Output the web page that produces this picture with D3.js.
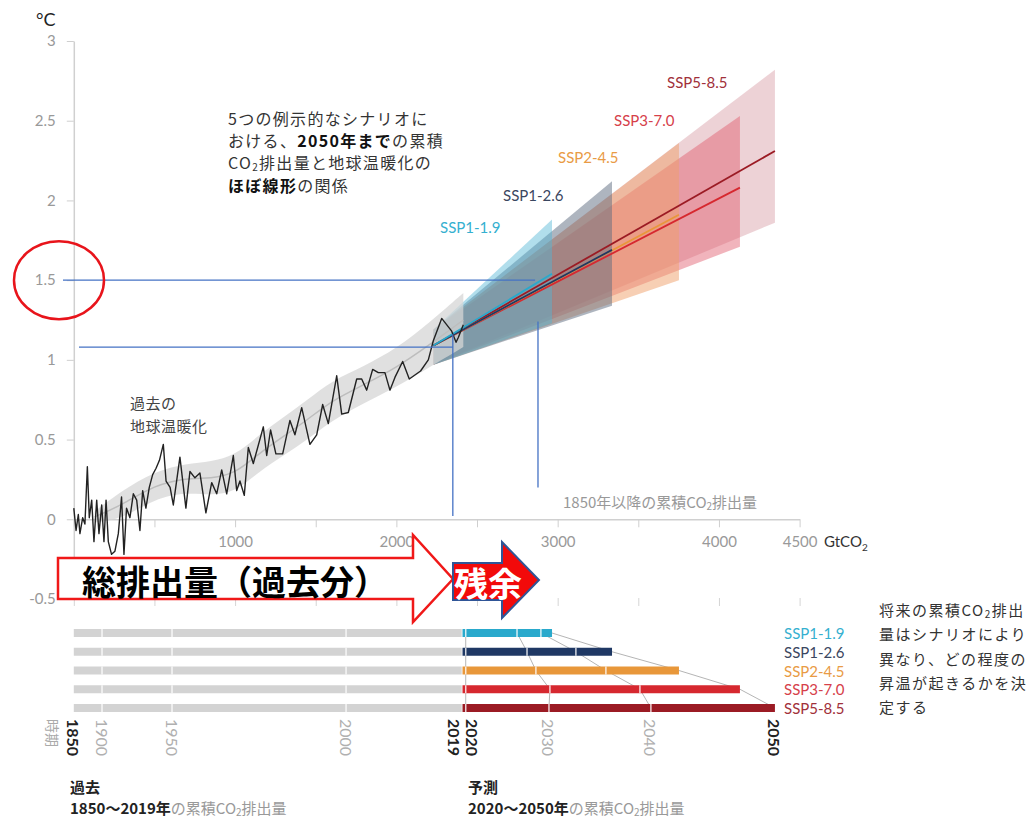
<!DOCTYPE html>
<html>
<head>
<meta charset="utf-8">
<script src="https://cdn.jsdelivr.net/npm/d3@7"></script>
<style>
  body { margin: 0; background: #fff; }
</style>
</head>
<body>
<div id="chart"></div>
<script>
// axis ticks
var yTicks = [-0.5, 0, 0.5, 1, 1.5, 2, 2.5, 3];
var xTicks = [0, 500, 1000, 1500, 2000, 2500, 3000, 3500, 4000, 4500];
var xTickLabels = [1000, 2000, 3000, 4000, 4500];

// observed warming vs cumulative CO2 (GtCO2, degC)
var histCum = [0, 14, 28, 38, 55, 69, 84, 96, 111, 125, 142, 156, 173, 187, 200, 214, 234, 255, 276, 296,
  311, 327, 348, 369, 390, 410, 427, 447, 468, 489, 510, 531, 555, 572, 597, 617, 658, 695, 720, 751,
  782, 819, 855, 886, 917, 948, 989, 1010, 1030, 1057, 1082, 1113, 1175, 1196, 1220, 1253, 1295, 1340, 1371, 1413,
  1464, 1506, 1543, 1578, 1630, 1661, 1702, 1754, 1785, 1816, 1853, 1888, 1929, 1960, 1991, 2039, 2080, 2150, 2198, 2229,
  2281, 2343, 2370, 2384, 2415];
var histTemp = [0.07, -0.07, 0.03, -0.09, 0.01, -0.03, 0.33, 0.01, 0.12, -0.14, 0.12, -0.09, 0.09, -0.14, 0.12, -0.14, -0.22, -0.20, -0.09, 0.14,
  -0.22, 0.07, 0.01, 0.16, 0.12, -0.07, 0.18, 0.07, 0.20, 0.28, 0.32, 0.37, 0.47, 0.24, 0.20, 0.09, 0.39, 0.07, 0.30, 0.26,
  0.29, 0.04, 0.23, 0.16, 0.31, 0.16, 0.40, 0.18, 0.24, 0.15, 0.45, 0.35, 0.58, 0.40, 0.56, 0.41, 0.41, 0.62, 0.53, 0.70,
  0.47, 0.53, 0.72, 0.60, 0.90, 0.66, 0.67, 0.88, 0.88, 0.81, 0.94, 0.92, 0.92, 0.81, 0.89, 0.99, 0.88, 0.93, 1.00, 1.12,
  1.26, 1.18, 1.11, 1.14, 1.22];

// likely range of the observed trend
var bandCum = [130, 300, 500, 700, 850, 1000, 1150, 1300, 1450, 1600, 1800, 2000, 2200, 2415];
var bandLow = [-0.02, 0.00, 0.13, 0.17, 0.15, 0.17, 0.30, 0.40, 0.50, 0.62, 0.73, 0.83, 0.95, 1.08];
var bandHigh = [0.05, 0.18, 0.30, 0.35, 0.36, 0.40, 0.53, 0.64, 0.75, 0.87, 0.96, 1.07, 1.23, 1.42];

// scenarios
var scenarios = ["SSP1-1.9", "SSP1-2.6", "SSP2-4.5", "SSP3-7.0", "SSP5-8.5"];
var scenColors = ["#29a9cc", "#1f3864", "#e8973a", "#d6282f", "#9b1b24"];
var scenLabelColors = ["#35b0d0", "#3a4660", "#e99b45", "#d6404a", "#a1303a"];
var scenStartCum = 2230, scenStartTemp = 1.09, scenStartLow = 0.97, scenStartHigh = 1.19;
var scenEndCum = [2965, 3337, 3752, 4130, 4347];
var scenEndTemp = [1.54, 1.69, 1.91, 2.08, 2.31];
var scenEndLow = [1.23, 1.34, 1.50, 1.71, 1.86];
var scenEndHigh = [1.88, 2.12, 2.36, 2.53, 2.82];

// cumulative emissions by year (bottom panel)
var histYears = [1850, 1900, 1950, 2000, 2019];
var histYearCum = [0, 175, 609, 1688, 2410];
var cum2020 = 2430;
var cum2030 = [2748, 2810, 2865, 2952, 2946];
var cum2040 = [2896, 3113, 3299, 3510, 3578];

var latin = "Lato, 'Noto Sans CJK JP', sans-serif";
var jp = "'Noto Sans CJK JP', sans-serif";

var svg = d3.select("#chart")
  .append("svg")
    .attr("width", 1028)
    .attr("height", 819);

var x = d3.scaleLinear().domain([0, 4500]).range([73.8, 799.6]);
var y = d3.scaleLinear().domain([-0.5, 3]).range([599, 41]);

// y axis
var yAxis = svg.append("g")
    .attr("transform", "translate(" + x(0) + ",0)")
    .call(d3.axisLeft(y).tickValues(yTicks).tickSize(7).tickSizeOuter(0).tickPadding(11)
      .tickFormat(function(d) { return String(d); }));
yAxis.select(".domain").attr("stroke", "#d0d0d0").attr("stroke-width", 1.5);
yAxis.selectAll(".tick line").attr("stroke", "#cfcfcf");
yAxis.selectAll(".tick text").attr("fill", "#999").style("font-size", "15px").style("font-family", latin);

// x axis at zero
var xAxis = svg.append("g")
    .attr("transform", "translate(0," + y(0) + ")")
    .call(d3.axisBottom(x).tickValues(xTicks).tickSize(8).tickSizeOuter(0).tickPadding(9)
      .tickFormat(function(d) { return xTickLabels.indexOf(d) >= 0 ? d : ""; }));
xAxis.select(".domain").attr("stroke", "#d0d0d0").attr("stroke-width", 1.5);
xAxis.selectAll(".tick line").attr("stroke", "#cfcfcf");
xAxis.selectAll(".tick text").attr("fill", "#999").style("font-size", "15px").style("font-family", latin);

// second row of ticks at -0.5
var xAxis2 = svg.append("g")
    .attr("transform", "translate(0," + (y(-0.5) - 1) + ")")
    .call(d3.axisBottom(x).tickValues(xTicks).tickSize(8).tickFormat(""));
xAxis2.select(".domain").remove();
xAxis2.selectAll(".tick line").attr("stroke", "#d5d5d5");

svg.append("text")
    .attr("x", 36).attr("y", 26)
    .style("font-family", latin).style("font-size", "18px").attr("fill", "#222")
    .text("°C");

var unit = svg.append("text")
    .attr("x", 824).attr("y", 547)
    .style("font-family", latin).style("font-size", "15px").attr("fill", "#333")
    .text("GtCO");
unit.append("tspan").attr("dy", 4).style("font-size", "10px").text("2");

// rich text helper: parts are {t, b, c, sub}
function richText(xp, yp, parts, size, spacing) {
  var t = svg.append("text")
      .attr("x", xp).attr("y", yp)
      .attr("dominant-baseline", "central")
      .style("font-family", jp)
      .style("font-size", size + "px")
      .style("letter-spacing", (spacing || 0) + "px");
  var shifted = false;
  parts.forEach(function(p) {
    var s = t.append("tspan")
        .attr("fill", p.c || "#333")
        .style("font-weight", p.b ? "bold" : "normal")
        .text(p.t);
    if (p.sub) {
      s.attr("dy", 4).style("font-size", Math.round(size * 0.65) + "px");
      shifted = true;
    } else if (shifted) {
      s.attr("dy", -4);
      shifted = false;
    }
  });
  return t;
}

richText(563, 501, [{t: "1850年以降の累積CO", c: "#999"}, {t: "2", c: "#999", sub: true}, {t: "排出量", c: "#999"}], 15);

// scenario ranges
var bandArea = d3.area()
    .x(function(d) { return x(d.c); })
    .y0(function(d) { return y(d.lo); })
    .y1(function(d) { return y(d.hi); });
var bandFill = ["#52b6d4", "#5d6b80", "#f0a06a", "#e0596a", "#d08a92"];
var bandOpacity = [0.45, 0.5, 0.5, 0.45, 0.38];
for (var i = scenarios.length - 1; i >= 0; i--) {
  svg.append("path")
      .datum([{c: scenStartCum, lo: scenStartLow, hi: scenStartHigh},
              {c: scenEndCum[i], lo: scenEndLow[i], hi: scenEndHigh[i]}])
      .attr("d", bandArea)
      .attr("fill", bandFill[i])
      .attr("fill-opacity", bandOpacity[i]);
}

// observed band and smooth line
var hist = bandCum.map(function(c, i) { return {c: c, lo: bandLow[i], hi: bandHigh[i]}; });
svg.append("path")
    .datum(hist)
    .attr("d", bandArea.curve(d3.curveBasis))
    .attr("fill", "#d6d6d6")
    .attr("fill-opacity", 0.75);
svg.append("path")
    .datum(hist)
    .attr("d", d3.line().curve(d3.curveBasis)
      .x(function(d) { return x(d.c); })
      .y(function(d) { return y((d.lo + d.hi) / 2); }))
    .attr("fill", "none")
    .attr("stroke", "#bdbdbd")
    .attr("stroke-width", 1.5);

// scenario central lines
for (var j = scenarios.length - 1; j >= 0; j--) {
  svg.append("line")
      .attr("x1", x(scenStartCum)).attr("y1", y(scenStartTemp))
      .attr("x2", x(scenEndCum[j])).attr("y2", y(scenEndTemp[j]))
      .attr("stroke", scenColors[j])
      .attr("stroke-width", 1.8);
}

// observed warming line
svg.append("path")
    .datum(histCum.map(function(c, i) { return [c, histTemp[i]]; }))
    .attr("d", d3.line()
      .x(function(d) { return x(d[0]); })
      .y(function(d) { return y(d[1]); }))
    .attr("fill", "none")
    .attr("stroke", "#222")
    .attr("stroke-width", 1.4)
    .attr("stroke-linejoin", "round");

// labels in the upper panel
var labelPos = [[440, 227], [503, 195], [558, 157], [614, 120], [667, 82]];
scenarios.forEach(function(s, i) {
  svg.append("text")
      .attr("x", labelPos[i][0]).attr("y", labelPos[i][1])
      .attr("dominant-baseline", "central")
      .style("font-family", latin).style("font-size", "15px")
      .attr("fill", scenLabelColors[i])
      .text(s);
});

richText(228, 118, [{t: "5つの例示的なシナリオに"}], 16, 1.3);
richText(228, 140, [{t: "おける、"}, {t: "2050年まで", b: true, c: "#111"}, {t: "の累積"}], 16, 1.3);
richText(228, 162, [{t: "CO"}, {t: "2", sub: true}, {t: "排出量と地球温暖化の"}], 16, 1.3);
richText(228, 185, [{t: "ほぼ線形", b: true, c: "#111"}, {t: "の関係"}], 16, 1.3);

richText(130, 402, [{t: "過去の", c: "#444"}], 15, 0.5);
richText(130, 425, [{t: "地球温暖化", c: "#444"}], 15, 0.5);

// bottom panel
var row = d3.scalePoint().domain(scenarios).range([633, 708]);
var barH = 8;

// connector lines between decade marks
var decades = [scenarios.map(function() { return cum2020; }), cum2030, cum2040, scenEndCum];
decades.forEach(function(arr) {
  svg.append("path")
      .datum(arr)
      .attr("d", d3.line()
        .x(function(d) { return x(d); })
        .y(function(d, i) { return row(scenarios[i]); }))
      .attr("fill", "none")
      .attr("stroke", "#b5b5b5")
      .attr("stroke-width", 1);
});

scenarios.forEach(function(s, i) {
  svg.append("rect")
      .attr("x", x(0)).attr("y", row(s) - barH / 2)
      .attr("width", x(2405) - x(0)).attr("height", barH)
      .attr("fill", "#d3d3d3");
  svg.append("rect")
      .attr("x", x(2410)).attr("y", row(s) - barH / 2)
      .attr("width", x(scenEndCum[i]) - x(2410)).attr("height", barH)
      .attr("fill", scenColors[i]);
  histYearCum.slice(1, 4).concat([cum2020, cum2030[i], cum2040[i]]).forEach(function(c) {
    svg.append("line")
        .attr("x1", x(c)).attr("x2", x(c))
        .attr("y1", row(s) - barH / 2).attr("y2", row(s) + barH / 2)
        .attr("stroke", "#fff").attr("stroke-opacity", 0.8)
        .attr("stroke-width", 1.5);
  });
  svg.append("text")
      .attr("x", 784).attr("y", row(s))
      .attr("dominant-baseline", "central")
      .style("font-family", latin).style("font-size", "15px")
      .attr("fill", scenLabelColors[i])
      .text(s);
});

// rotated year labels
var yearLabels = histYears.map(function(yr, i) {
  return {t: yr, c: histYearCum[i], bold: yr === 1850 || yr === 2019, dx: yr === 2019 ? -8 : 0};
});
yearLabels.push({t: 2020, c: cum2020, bold: true, dx: 7});
yearLabels.push({t: 2030, c: cum2030[4], bold: false, dx: 0});
yearLabels.push({t: 2040, c: cum2040[4], bold: false, dx: 0});
yearLabels.push({t: 2050, c: scenEndCum[4], bold: true, dx: 0});
yearLabels.forEach(function(d) {
  svg.append("text")
      .attr("transform", "translate(" + (x(d.c) + d.dx) + ",719) rotate(90)")
      .attr("dominant-baseline", "central")
      .style("font-family", latin).style("font-size", "16px")
      .style("font-weight", d.bold ? "bold" : "normal")
      .attr("fill", d.bold ? "#222" : "#b0b0b0")
      .text(d.t);
});
svg.append("text")
    .attr("transform", "translate(53,719) rotate(90)")
    .attr("dominant-baseline", "central")
    .style("font-family", jp).style("font-size", "14px")
    .attr("fill", "#aaa")
    .text("時期");

// captions under the bars
richText(70, 786, [{t: "過去", b: true, c: "#222"}], 15);
richText(70, 807, [{t: "1850～2019年", b: true, c: "#222"}, {t: "の累積CO", c: "#999"},
  {t: "2", c: "#999", sub: true}, {t: "排出量", c: "#999"}], 15);
richText(468, 786, [{t: "予測", b: true, c: "#222"}], 15);
richText(468, 807, [{t: "2020～2050年", b: true, c: "#222"}, {t: "の累積CO", c: "#999"},
  {t: "2", c: "#999", sub: true}, {t: "排出量", c: "#999"}], 15);

richText(879, 609, [{t: "将来の累積CO"}, {t: "2", sub: true}, {t: "排出"}], 15, 1.5);
richText(879, 633, [{t: "量はシナリオにより"}], 15, 1.5);
richText(879, 658, [{t: "異なり、どの程度の"}], 15, 1.5);
richText(879, 682, [{t: "昇温が起きるかを決"}], 15, 1.5);
richText(879, 706, [{t: "定する"}], 15, 1.5);

// annotations: blue guide lines
var blue = "#4472c4";
svg.append("line")
    .attr("x1", 63).attr("x2", x(2860)).attr("y1", y(1.5)).attr("y2", y(1.5))
    .attr("stroke", blue).attr("stroke-width", 1.3);
svg.append("line")
    .attr("x1", x(2878)).attr("x2", x(2878)).attr("y1", y(1.24)).attr("y2", y(0.2))
    .attr("stroke", blue).attr("stroke-width", 1.3);
svg.append("line")
    .attr("x1", 79).attr("x2", x(2350)).attr("y1", y(1.08)).attr("y2", y(1.08))
    .attr("stroke", blue).attr("stroke-width", 1.3);
svg.append("line")
    .attr("x1", x(2350)).attr("x2", x(2350)).attr("y1", y(1.16)).attr("y2", y(0.02))
    .attr("stroke", blue).attr("stroke-width", 1.3);

// red ellipse around 1.5
svg.append("ellipse")
    .attr("cx", 59).attr("cy", y(1.5))
    .attr("rx", 45).attr("ry", 39)
    .attr("fill", "none")
    .attr("stroke", "#e8141b")
    .attr("stroke-width", 2.5);

// arrows
svg.append("polygon")
    .attr("points", "58,558 413,558 413,535 453,579 413,622 413,599 58,599")
    .attr("fill", "#fff")
    .attr("stroke", "#f01818")
    .attr("stroke-width", 2.5);
svg.append("text")
    .attr("x", 82).attr("y", 580)
    .attr("dominant-baseline", "central")
    .style("font-family", jp).style("font-size", "34px").style("font-weight", "bold")
    .attr("fill", "#000")
    .text("総排出量（過去分）");

svg.append("polygon")
    .attr("points", "453,563 502,563 502,542 539,580 502,618 502,600 453,600")
    .attr("fill", "#f20a0a")
    .attr("stroke", "#2f5597")
    .attr("stroke-width", 2);
svg.append("text")
    .attr("x", 454).attr("y", 582)
    .attr("dominant-baseline", "central")
    .style("font-family", jp).style("font-size", "34px").style("font-weight", "bold")
    .attr("fill", "#fff")
    .text("残余");
</script>
</body>
</html>
